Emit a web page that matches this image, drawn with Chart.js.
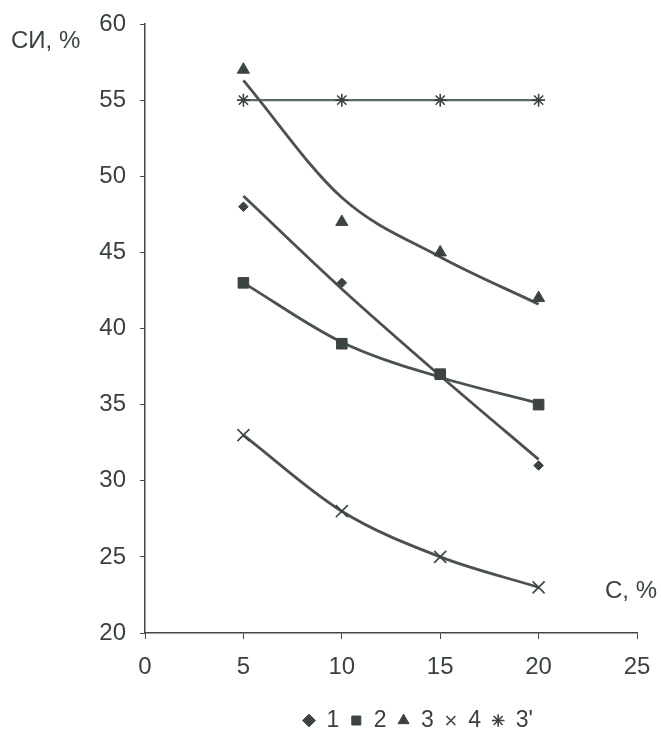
<!DOCTYPE html>
<html>
<head>
<meta charset="utf-8">
<script src="https://cdn.jsdelivr.net/npm/chart.js@4/dist/chart.umd.min.js"></script>
<style>
  html, body { margin:0; padding:0; background:#fff; }
  #wrap { position:relative; width:661px; height:732px; }
  .lbl { position:absolute; font-family:'Liberation Sans', Arial, sans-serif; font-size:24px; color:#38423b; white-space:nowrap; }
</style>
</head>
<body>
<div id="wrap">
  <canvas id="c" width="661" height="732"></canvas>
  <div class="lbl" style="left:11px; top:26px;">СИ, %</div>
  <div class="lbl" style="left:605px; top:576px;">С, %</div>
</div>
<script>
// concentration, %
const xValues = [5, 10, 15, 20];

// measured points
const s1  = [48, 43, 37, 31];
const s2  = [43, 39, 37, 35];
const s3  = [57, 47, 45, 42];
const s4  = [33, 28, 25, 23];
const s3p = [55, 55, 55, 55];

// trend lines at the same x
const t1 = [48.7, 42.6, 36.9, 31.4];
const t2 = [43.0, 39.1, 36.8, 35.1];
const t3 = [56.3, 48.6, 44.7, 41.6];
const t4 = [33.0, 28.0, 25.0, 23.0];

const seriesNames = ['1', '2', '3', '4', "3'"];

const ink = '#3c4441';
const lineCol = '#4a5250';
const textCol = '#38423b';
const legendPad = 11;
const pts = arr => arr.map((y, i) => ({ x: xValues[i], y }));

function trend(arr, color, width) {
  return { label: '', data: pts(arr), borderColor: color, borderWidth: width, pointRadius: 0,
           cubicInterpolationMode: 'monotone', fill: false, order: 2 };
}
function marks(label, arr, style, r, filled) {
  return { label, data: pts(arr), showLine: false, pointStyle: style, pointRadius: r,
           pointBackgroundColor: filled ? ink : 'rgba(0,0,0,0)', backgroundColor: filled ? ink : 'rgba(0,0,0,0)',
           pointBorderColor: ink, borderColor: ink, pointBorderWidth: filled ? 1 : 1.6, borderWidth: filled ? 1 : 1.6, order: 1 };
}

// nudge the legend to where it sits in the original figure
const legendShift = {
  id: 'legendShift',
  afterLayout(chart) {
    const lg = chart.legend;
    if (!lg || !lg.lineWidths) return;
    const dy = 698 - lg.top;
    lg.top += dy; lg.bottom += dy;
    const start = (lg.left + legendPad + lg.right - lg.lineWidths[0]) / 2;
    const dx = 303 - start;
    lg.left += dx; lg.right += dx;
  }
};

Chart.defaults.font.family = "'Liberation Sans', Arial, sans-serif";
Chart.defaults.font.size = 24;
Chart.defaults.color = textCol;

new Chart(document.getElementById('c'), {
  type: 'line',
  plugins: [legendShift],
  data: {
    datasets: [
      marks(seriesNames[0], s1, 'rectRot', 4.8, true),
      marks(seriesNames[1], s2, 'rect', 7.5, true),
      marks(seriesNames[2], s3, 'triangle', 7, true),
      marks(seriesNames[3], s4, 'crossRot', 8.5, false),
      marks(seriesNames[4], s3p, 'star', 6.5, false),
      trend(t1, lineCol, 2.8),
      trend(t2, lineCol, 2.8),
      trend(t3, lineCol, 2.8),
      trend(t4, lineCol, 2.8),
      trend(s3p, '#5d6a60', 2.4)
    ]
  },
  options: {
    responsive: false,
    animation: false,
    layout: { padding: { left: 0, top: 24, right: 24, bottom: 0 } },
    plugins: {
      tooltip: { enabled: false },
      legend: {
        position: 'bottom',
        labels: {
          usePointStyle: true, boxWidth: 12, boxHeight: 9, padding: legendPad,
          color: textCol, font: { size: 23 },
          filter: item => item.text !== ''
        }
      }
    },
    scales: {
      x: {
        type: 'linear', min: 0, max: 25,
        ticks: { stepSize: 5, padding: 14, color: textCol, font: { size: 24 } },
        grid: { drawOnChartArea: false, drawTicks: true, tickLength: 6, color: '#444' },
        border: { display: true, color: '#444', width: 1.5 },
        afterFit: s => {
          s.height = 732 - 633 - (s.chart.legend ? s.chart.legend.height : 61);
          s.paddingLeft = 0; s.paddingRight = 0;
        }
      },
      y: {
        min: 20, max: 60,
        ticks: { stepSize: 5, padding: 14, color: textCol, font: { size: 24 } },
        grid: { drawOnChartArea: false, drawTicks: true, tickLength: 5, color: '#444' },
        border: { display: true, color: '#444', width: 1.5 },
        afterFit: s => { s.width = 145; s.paddingTop = 0; s.paddingBottom = 0; }
      }
    }
  }
});
</script>
</body>
</html>
